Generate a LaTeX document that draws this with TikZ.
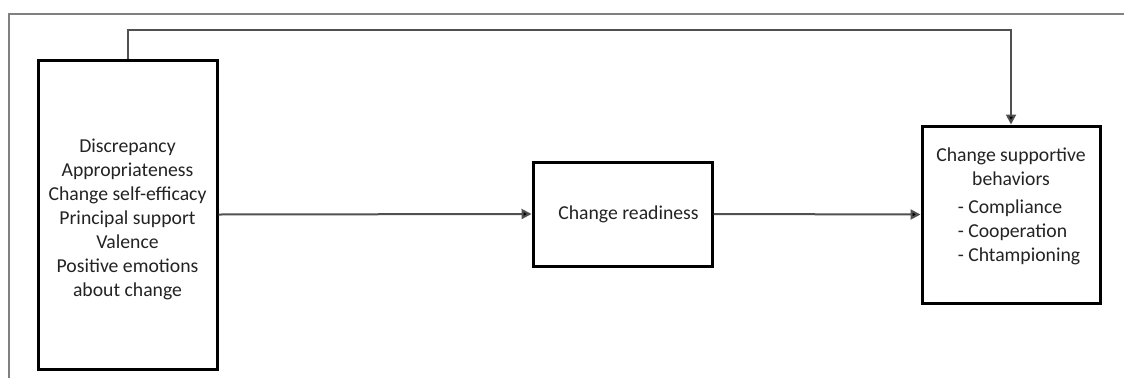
\documentclass[tikz,border=0pt]{standalone}
\usepackage{fontspec}
\setmainfont{Carlito}
\usetikzlibrary{arrows.meta}
\definecolor{linegray}{RGB}{80,80,80}
\definecolor{txt}{RGB}{35,35,35}
\tikzset{
  box/.style={draw=black, line width=3pt, align=center, inner sep=0pt, text=txt,
    font=\fontsize{19.7}{24}\selectfont},
  conn/.style={draw=linegray, line width=2pt, -{Triangle[length=10pt,width=10pt,fill=black]}},
  frame/.style={draw=gray, line width=2pt}
}
\begin{document}
\begin{tikzpicture}[x=1pt,y=-1pt]
\useasboundingbox (0,0) rectangle (1124,378);
\fill[white] (0,0) rectangle (1124,378);
\coordinate (ftl) at (9,14);
\coordinate (ftr) at (1124,14);
\coordinate (fbl) at (9,378);
\draw[frame] (fbl) -- (ftl) -- (ftr);

\node[box, minimum width=179pt, minimum height=309pt] (ant) at (127.5,214.5)
  {\raisebox{-5pt}[\height][\depth]{\begin{tabular}{@{}c@{}}Discrepancy\\Appropriateness\\Change self-efficacy\\Principal support\\Valence\\Positive emotions\\about change\end{tabular}}};
\node[box, minimum width=179pt, minimum height=104pt] (cr) at (622.5,214)
  {\hspace*{12pt}Change readiness};
\node[box, minimum width=178pt, minimum height=177pt] (cs) at (1011,214.5)
  {\raisebox{8pt}[\height][\depth]{\begin{tabular}{@{}c@{}}Change supportive\\behaviors\\[4pt]
   \hspace*{16pt}\begin{tabular}{@{}l@{}}- Compliance\\- Cooperation\\- Chtampioning\end{tabular}\end{tabular}}};

\draw[conn] (ant.east) -- (cr.west);
\draw[conn] (cr.east) -- (cs.west);
\draw[conn] (ant.north) -- ++(0,-29) -| (cs.north);
\end{tikzpicture}
\end{document}
